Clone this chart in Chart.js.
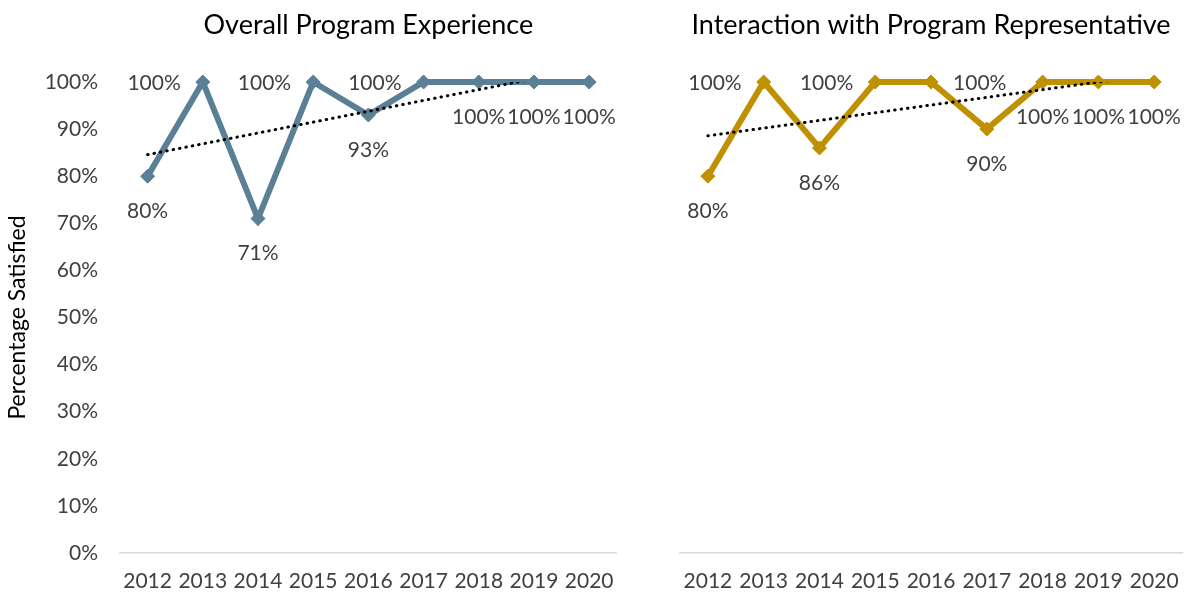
<!DOCTYPE html>
<html>
<head>
<meta charset="utf-8">
<script src="https://cdn.jsdelivr.net/npm/chart.js@4.4.1/dist/chart.umd.min.js"></script>
<style>
    html, body { margin: 0; padding: 0; background: #ffffff; }
    .panel { position: absolute; top: 0; height: 597px; }
    #leftPanel { left: 0; width: 630px; }
    #rightPanel { left: 630px; width: 565px; }
</style>
</head>
<body>
<div class="panel" id="leftPanel"><canvas id="overallChart"></canvas></div>
<div class="panel" id="rightPanel"><canvas id="repChart"></canvas></div>
<script>
// Survey years and yearly satisfaction (%)
const years = ['2012', '2013', '2014', '2015', '2016', '2017', '2018', '2019', '2020'];
const overallValues = [80, 100, 71, 100, 93, 100, 100, 100, 100];
const repValues = [80, 100, 86, 100, 100, 90, 100, 100, 100];
const yTicks = [0, 10, 20, 30, 40, 50, 60, 70, 80, 90, 100];

// Where each value label sits relative to its point
const overallLabelPos = ['below', 'left', 'below', 'left', 'below', 'left', 'below', 'below', 'below'];
const repLabelPos = ['below', 'left', 'below', 'left', 'right', 'below', 'below', 'below', 'below'];

const FONT = 'Lato, "Liberation Sans", sans-serif';
const TEXT_COLOR = '#404040';

// Least squares line over the year index, same as a linear trendline
function linearTrend(values) {
    const n = values.length;
    let sx = 0, sy = 0, sxy = 0, sxx = 0;
    values.forEach((v, i) => {
        sx += i; sy += v; sxy += i * v; sxx += i * i;
    });
    const slope = (n * sxy - sx * sy) / (n * sxx - sx * sx);
    const intercept = (sy - slope * sx) / n;
    return values.map((_, i) => intercept + slope * i);
}

// Title centred over the plot area
const plotTitle = {
    id: 'plotTitle',
    afterDraw(chart, args, opts) {
        const { ctx, chartArea } = chart;
        ctx.save();
        ctx.font = '27px ' + FONT;
        ctx.fillStyle = '#000000';
        ctx.textAlign = 'center';
        ctx.textBaseline = 'middle';
        ctx.fillText(opts.text, (chartArea.left + chartArea.right) / 2, 25);
        ctx.restore();
    }
};

// Percent labels next to the series points
const valueLabels = {
    id: 'valueLabels',
    afterDatasetsDraw(chart, args, opts) {
        const { ctx } = chart;
        const meta = chart.getDatasetMeta(opts.datasetIndex);
        const values = chart.data.datasets[opts.datasetIndex].data;
        ctx.save();
        ctx.font = '21px ' + FONT;
        ctx.fillStyle = TEXT_COLOR;
        ctx.textBaseline = 'middle';
        meta.data.forEach((pt, i) => {
            const text = values[i] + '%';
            const pos = opts.positions[i];
            if (pos === 'left') {
                ctx.textAlign = 'right';
                ctx.fillText(text, pt.x - 22, pt.y + 1);
            } else if (pos === 'right') {
                ctx.textAlign = 'left';
                ctx.fillText(text, pt.x + 22, pt.y + 1);
            } else {
                ctx.textAlign = 'center';
                ctx.fillText(text, pt.x, pt.y + 35);
            }
        });
        ctx.restore();
    }
};

function buildChart(canvasId, title, values, color, labelPos, showY, padLeft, padRight) {
    const ctx = document.getElementById(canvasId).getContext('2d');
    return new Chart(ctx, {
        type: 'line',
        data: {
            labels: years,
            datasets: [
                {
                    // dotted linear trendline, clipped at the 100% edge
                    data: linearTrend(values),
                    borderColor: '#000000',
                    borderWidth: 3,
                    borderDash: [0.5, 6],
                    borderCapStyle: 'round',
                    pointRadius: 0,
                    fill: false,
                    clip: 0,
                    order: 0
                },
                {
                    data: values,
                    borderColor: color,
                    backgroundColor: color,
                    borderWidth: 6,
                    pointStyle: 'rectRot',
                    pointRadius: 7,
                    pointBorderWidth: 1,
                    pointBackgroundColor: color,
                    pointBorderColor: color,
                    tension: 0,
                    fill: false,
                    clip: false,
                    order: 1
                }
            ]
        },
        options: {
            responsive: true,
            maintainAspectRatio: false,
            animation: false,
            layout: {
                padding: { top: 82, left: padLeft, right: padRight, bottom: 0 }
            },
            plugins: {
                legend: { display: false },
                tooltip: { enabled: false },
                plotTitle: { text: title },
                valueLabels: { datasetIndex: 1, positions: labelPos }
            },
            scales: {
                x: {
                    offset: true,
                    grid: { display: false, drawTicks: false },
                    border: { display: true, color: '#d9d9d9', width: 1.5 },
                    ticks: {
                        color: TEXT_COLOR,
                        font: { family: FONT, size: 21 },
                        padding: 16,
                        maxRotation: 0,
                        autoSkip: false
                    },
                    afterFit: (scale) => { scale.height = 44; }
                },
                y: {
                    display: showY,
                    min: 0,
                    max: 100,
                    afterBuildTicks: (scale) => {
                        scale.ticks = yTicks.map(v => ({ value: v }));
                    },
                    grid: { display: false, drawTicks: false },
                    border: { display: false },
                    ticks: {
                        color: TEXT_COLOR,
                        font: { family: FONT, size: 21 },
                        padding: 22,
                        callback: (v) => v + '%'
                    },
                    title: {
                        display: true,
                        text: 'Percentage Satisfied',
                        color: '#000000',
                        font: { family: FONT, size: 23 },
                        padding: { top: 4, bottom: 0 }
                    },
                    afterFit: (scale) => { if (showY) scale.width = 120; }
                }
            }
        },
        plugins: [plotTitle, valueLabels]
    });
}

buildChart('overallChart', 'Overall Program Experience', overallValues, '#5b7f95', overallLabelPos, true, 0, 9);
buildChart('repChart', 'Interaction with Program Representative', repValues, '#bf9000', repLabelPos, false, 50, 7);
</script>
</body>
</html>
